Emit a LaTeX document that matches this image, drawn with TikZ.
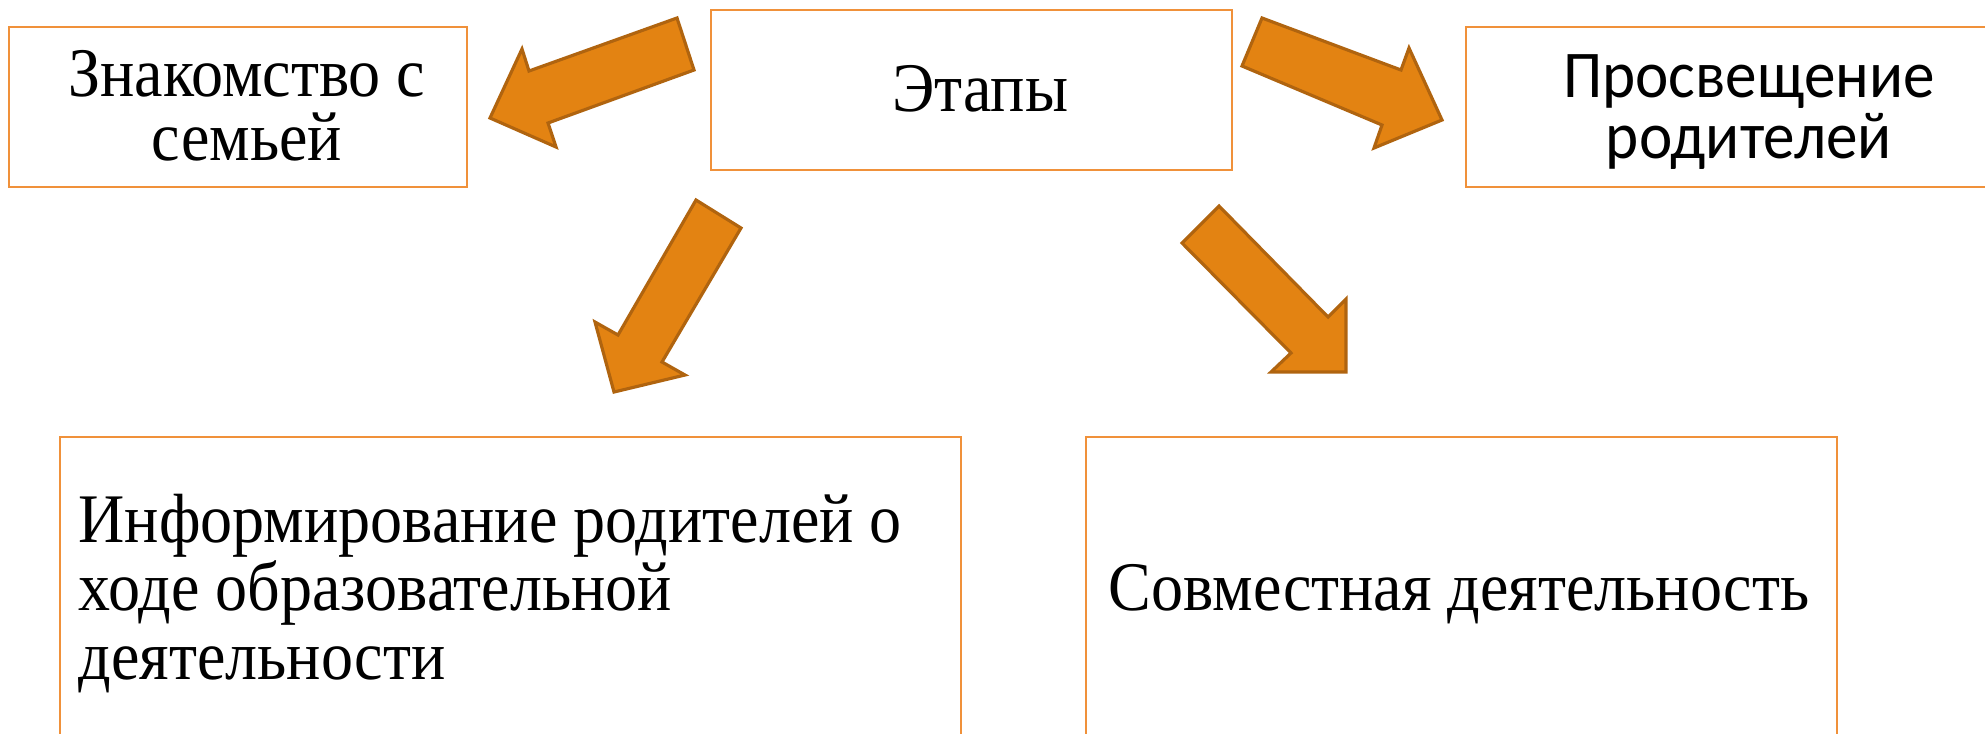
\documentclass[tikz,border=0pt]{standalone}
\usepackage{fontspec}
\setmainfont[FakeStretch=0.92]{Liberation Serif}
\newfontfamily\boxsans[FakeStretch=0.945]{Carlito}
\definecolor{boxline}{HTML}{F0913A}
\definecolor{arrowfill}{HTML}{E38312}
\definecolor{arrowline}{HTML}{B0640F}
\begin{document}
\begin{tikzpicture}[x=0.01cm,y=-0.01cm,
  box/.style={draw=boxline, line width=0.6pt, inner sep=0},
  txt/.style={font=\fontsize{19.8}{19.3}\selectfont, inner sep=0, text=black},
  stxt/.style={font=\boxsans\fontsize{19}{19}\selectfont, inner sep=0, text=black},
  blockarrow/.style={fill=arrowfill, draw=arrowline, line width=0.9pt, line join=miter}]
\useasboundingbox (0,0) rectangle (1985,733);
\clip (0,0) rectangle (1985,733);
% boxes
\node[box, minimum width=4.58cm, minimum height=1.60cm] (znak) at (238,107) {};
\node[box, minimum width=5.21cm, minimum height=1.60cm] (etap) at (971.5,90) {};
\node[box, minimum width=5.60cm, minimum height=1.60cm] (pros) at (1746,107) {};
\node[box, minimum width=9.01cm, minimum height=3.63cm] (info) at (510.5,618.5) {};
\node[box, minimum width=7.51cm, minimum height=3.63cm] (sovm) at (1461.5,618.5) {};
% texts
\node[txt, anchor=base] (znak1) at (247,96) {Знакомство с};
\node[txt, anchor=base] (znak2) at (247,160) {семьей};
\node[txt, anchor=base] (etapt) at (980,111) {Этапы};
\node[stxt, anchor=base] (pros1) at (1749,97) {Просвещение};
\node[stxt, anchor=base] (pros2) at (1749,158) {родителей};
\node[txt, anchor=base west] (info1) at (78,542) {Информирование родителей о};
\node[txt, anchor=base west] (info2) at (78,610) {ходе образовательной};
\node[txt, anchor=base west] (info3) at (78,679) {деятельности};
\node[txt, anchor=base west] (sovmt) at (1108,610) {Совместная деятельность};
% block arrows
\draw[blockarrow] (677,18) -- (694,70) -- (548,123) -- (556,147) -- (490,118) -- (522,49) -- (529,71) -- cycle;
\draw[blockarrow] (1262,18) -- (1242,66) -- (1382,125) -- (1374,148) -- (1442,120) -- (1409,48) -- (1401,70) -- cycle;
\draw[blockarrow] (696,200) -- (741,228) -- (662,362) -- (685,375) -- (614,392) -- (595,322) -- (618,335) -- cycle;
\draw[blockarrow] (1219,206) -- (1182,243) -- (1291,353) -- (1271,372) -- (1346,372) -- (1346,299) -- (1328,317) -- cycle;
\end{tikzpicture}
\end{document}
